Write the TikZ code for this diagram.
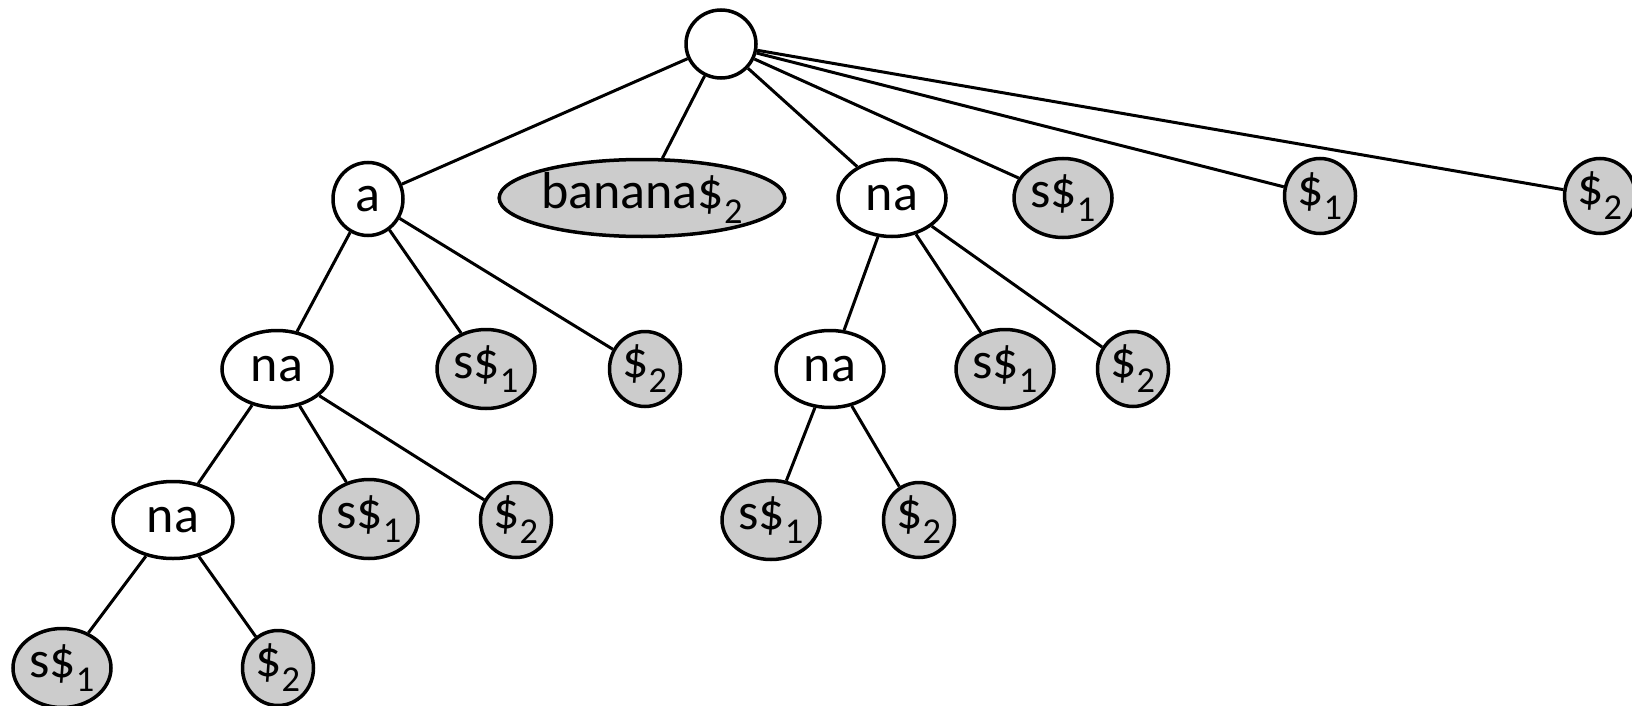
\documentclass[tikz,border=0pt]{standalone}
\usepackage{fontspec}
\setmainfont{Carlito}
\usetikzlibrary{shapes.geometric}
\newcommand\dol[1]{\$\textsubscript{#1}}
\tikzset{
  tn/.style={ellipse, draw=black, line width=3.5pt, inner sep=0pt,
             font=\fontsize{52}{60}\selectfont},
  inner/.style={tn, fill=white},
  leaf/.style={tn, fill=black!20},
  sz/.style 2 args={minimum width=#1pt, minimum height=#2pt},
  edge/.style={line width=3pt}
}
\begin{document}
\begin{tikzpicture}[x=1pt, y=-1pt]
\useasboundingbox (0,0) rectangle (1632,706);
% root
\node[inner, sz={70}{68}] (r) at (721,44) {};
% first level
\node[inner, sz={70}{73}] (a) at (368,199) {a};
\node[leaf, sz={279}{77}] (ban) at (642,198) {banana\dol{2}};
\node[inner, sz={108}{77}] (na) at (892,198) {na};
\node[leaf, sz={98}{79}] (rs1) at (1063,198) {s\dol{1}};
\node[leaf, sz={71}{75}] (rd1) at (1320,196) {\dol{1}};
\node[leaf, sz={71}{75}] (rd2) at (1600,196) {\dol{2}};
% second level
\node[inner, sz={110}{77}] (ana) at (277,369) {na};
\node[leaf, sz={98}{79}] (as1) at (486,369) {s\dol{1}};
\node[leaf, sz={71}{75}] (ad2) at (645,369) {\dol{2}};
\node[inner, sz={108}{77}] (nana) at (830,369) {na};
\node[leaf, sz={98}{79}] (nas1) at (1005,369) {s\dol{1}};
\node[leaf, sz={71}{75}] (nad2) at (1133,369) {\dol{2}};
% third level
\node[inner, sz={120}{77}] (anana) at (173,520) {na};
\node[leaf, sz={98}{79}] (anas1) at (369,519) {s\dol{1}};
\node[leaf, sz={71}{75}] (anad2) at (516,520) {\dol{2}};
\node[leaf, sz={98}{79}] (nanas1) at (771,520) {s\dol{1}};
\node[leaf, sz={71}{75}] (nanad2) at (919,520) {\dol{2}};
% fourth level
\node[leaf, sz={98}{79}] (ananas1) at (62,668) {s\dol{1}};
\node[leaf, sz={71}{75}] (ananad2) at (278,668) {\dol{2}};
% edges
\foreach \p/\c in {r/a, r/ban, r/na, r/rs1, r/rd1, r/rd2,
                   a/ana, a/as1, a/ad2,
                   na/nana, na/nas1, na/nad2,
                   ana/anana, ana/anas1, ana/anad2,
                   nana/nanas1, nana/nanad2,
                   anana/ananas1, anana/ananad2}
  \draw[edge] (\p) -- (\c);
\end{tikzpicture}
\end{document}
